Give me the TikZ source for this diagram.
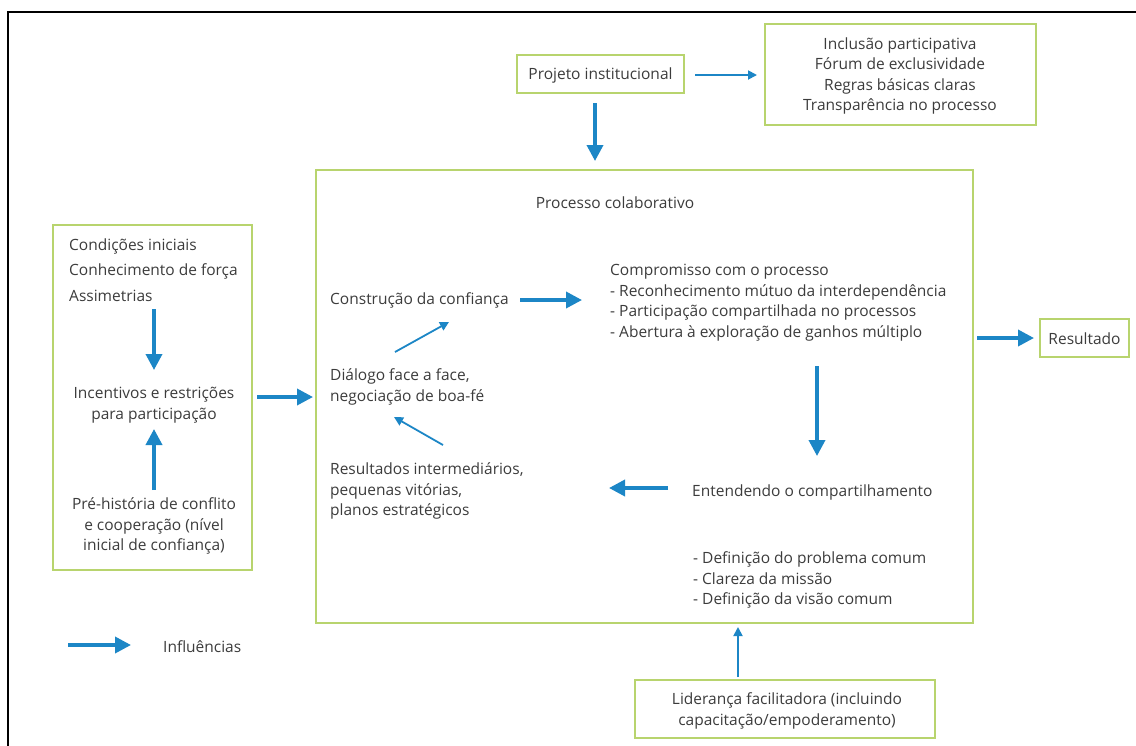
\documentclass[tikz,border=0pt]{standalone}
\usepackage{fontspec}
\setmainfont{Open Sans}
\usetikzlibrary{arrows.meta,calc}
\definecolor{gbox}{HTML}{B8D46E}
\definecolor{barrow}{HTML}{1C86C6}
\definecolor{txt}{HTML}{3C3C3C}
\begin{document}
\begin{tikzpicture}[x=1pt,y=-1pt,
  box/.style={draw=gbox, line width=1.6pt, inner sep=0pt},
  lbl/.style={text=txt, inner sep=0pt, font=\fontsize{15.5}{20.5}\selectfont},
  tarr/.style={draw=barrow, line width=3.6pt, -{Triangle[length=16pt,width=16pt]}},
  narr/.style={draw=barrow, line width=1.8pt, -{Triangle[length=9pt,width=9pt]}}]
\useasboundingbox (0,0) rectangle (1136,745);
\clip (0,0) rectangle (1136,745);
\fill[white] (0,0) rectangle (1136,745);
\draw[black, line width=2.5pt] (8,760) -- (8,12) -- (1150,12);

% boxes
\node[box, minimum width=657pt, minimum height=453pt] (main) at (644.5,396.5) {};
\node[box, minimum width=167pt, minimum height=38pt] (proj) at (600.5,74) {};
\node[box, minimum width=271pt, minimum height=101pt] (rbox) at (900.5,74.5) {};
\node[box, minimum width=199pt, minimum height=345pt] (lbox) at (152.5,397.5) {};
\node[box, minimum width=89pt, minimum height=38pt] (res) at (1084.5,338) {};
\node[box, minimum width=300pt, minimum height=58pt] (lid) at (785,709) {};

% texts
\node[lbl] (tproj) at (600.5,75) {Projeto institucional};
\node[lbl, align=center] (trbox) at (900,76) {Inclusão participativa\\Fórum de exclusividade\\Regras básicas claras\\Transparência no processo};
\node[lbl] (tres) at (1084.5,339) {Resultado};
\node[lbl, align=center] (tlid) at (787,711) {Liderança facilitadora (incluindo\\capacitação/empoderamento)};
\node[lbl, align=left, anchor=west, font=\fontsize{15.5}{25.5}\selectfont] (cond) at (69,270) {Condições iniciais\\Conhecimento de força\\Assimetrias};
\node[lbl, align=center] (incent) at (154,405) {Incentivos e restrições\\para participação};
\node[lbl, align=center] (pre) at (154,526) {Pré-história de conflito\\e cooperação (nível\\inicial de confiança)};
\node[lbl] (proc) at (615,203) {Processo colaborativo};
\node[lbl, anchor=west] (constr) at (330,300) {Construção da confiança};
\node[lbl, align=left, anchor=west] (comp) at (610,302.5) {Compromisso com o processo\\- Reconhecimento mútuo da interdependência\\- Participação compartilhada no processos\\- Abertura à exploração de ganhos múltiplo};
\node[lbl, align=left, anchor=west] (dial) at (330,387) {Diálogo face a face,\\negociação de boa-fé};
\node[lbl, align=left, anchor=west] (resint) at (330,491) {Resultados intermediários,\\pequenas vitórias,\\planos estratégicos};
\node[lbl, anchor=west] (ent) at (692,492) {Entendendo o compartilhamento};
\node[lbl, align=left, anchor=west] (def) at (693,580) {- Definição do problema comum\\- Clareza da missão\\- Definição da visão comum};
\node[lbl, anchor=west] (infl) at (163,647) {Influências};

% arrow end coordinates
\coordinate (a1s) at (695,75);   \coordinate (a1e) at (757,75);
\coordinate (a2s) at (595,103);  \coordinate (a2e) at (595,161);
\coordinate (a3s) at (154,309);  \coordinate (a3e) at (154,370);
\coordinate (a4s) at (154,490);  \coordinate (a4e) at (154,429);
\coordinate (a5s) at (257,397);  \coordinate (a5e) at (313,397);
\coordinate (a6s) at (520,300);  \coordinate (a6e) at (582,300);
\coordinate (a7s) at (395,352);  \coordinate (a7e) at (449,322);
\coordinate (a8s) at (443,445);  \coordinate (a8e) at (394,417);
\coordinate (a9s) at (817,366);  \coordinate (a9e) at (817,456);
\coordinate (a10s) at (668,488); \coordinate (a10e) at (609,488);
\coordinate (a11s) at (977,338); \coordinate (a11e) at (1034,338);
\coordinate (a12s) at (738,677); \coordinate (a12e) at (738,627);
\coordinate (legs) at (68,645);  \coordinate (lege) at (131,645);

\draw[narr] (a1s) -- (a1e);
\draw[tarr] (a2s) -- (a2e);
\draw[tarr] (a3s) -- (a3e);
\draw[tarr] (a4s) -- (a4e);
\draw[tarr] (a5s) -- (a5e);
\draw[tarr] (a6s) -- (a6e);
\draw[narr] (a7s) -- (a7e);
\draw[narr] (a8s) -- (a8e);
\draw[tarr] (a9s) -- (a9e);
\draw[tarr] (a10s) -- (a10e);
\draw[tarr] (a11s) -- (a11e);
\draw[narr] (a12s) -- (a12e);
\draw[tarr] (legs) -- (lege);
\end{tikzpicture}
\end{document}
